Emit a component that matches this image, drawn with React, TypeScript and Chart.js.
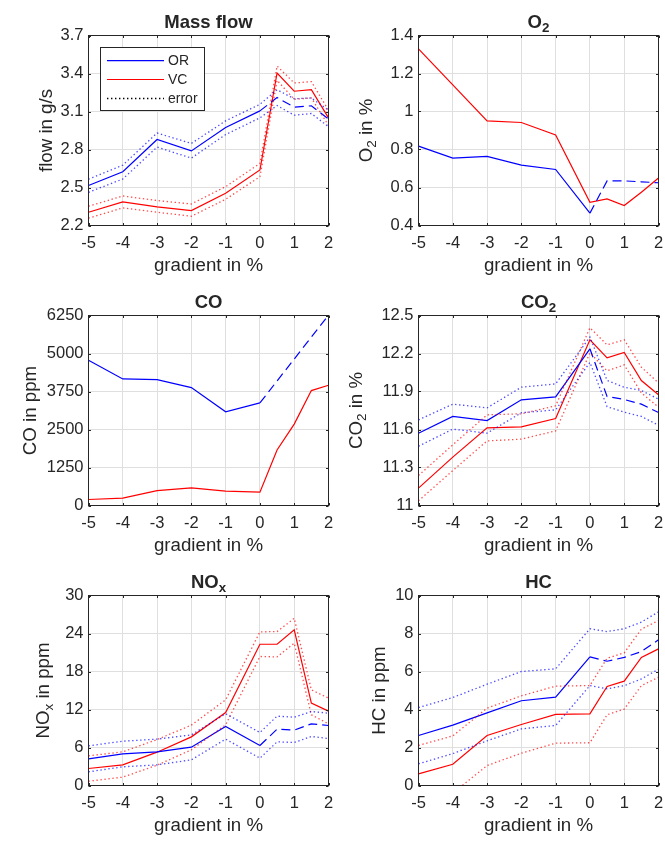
import React, { useEffect, useRef } from "react";
import { Chart, registerables } from "chart.js";
Chart.register(...registerables);

const FONT = '"Liberation Sans", Arial, Helvetica, sans-serif';
const AXC = "#262626";
const BLUE = "#0000ff";
const RED = "#ff0000";
const BLUE_ERR = "rgba(0,0,255,0.7)";
const RED_ERR = "rgba(255,0,0,0.7)";

const X = [-5, -4, -3, -2, -1, 0, 0.5, 1, 1.5, 2];
const X_TICKS = [-5, 2, 1];

// Mass flow (g/s)
const mfOR = [2.516, 2.624, 2.879, 2.789, 2.974, 3.105, 3.21, 3.134, 3.145, 3.04];
const mfORhi = [2.565, 2.677, 2.93, 2.848, 3.026, 3.157, 3.272, 3.2, 3.207, 3.11];
const mfORlo = [2.462, 2.567, 2.819, 2.732, 2.918, 3.05, 3.147, 3.071, 3.084, 2.98];
const mfVC = [2.305, 2.386, 2.347, 2.318, 2.454, 2.638, 3.404, 3.26, 3.273, 3.05];
const mfVChi = [2.352, 2.433, 2.397, 2.37, 2.507, 2.69, 3.459, 3.325, 3.336, 3.11];
const mfVClo = [2.258, 2.339, 2.305, 2.273, 2.407, 2.585, 3.346, 3.197, 3.207, 2.99];

// O2 (%)
const o2OR = [0.818, 0.755, 0.764, 0.718, 0.695, 0.465, 0.635, 0.635, 0.63, 0.625];
const o2VC = [1.33, 1.14, 0.951, 0.942, 0.877, 0.522, 0.54, 0.505, 0.575, 0.65];

// CO (ppm)
const coOR = [4775, 4163, 4141, 3879, 3081, 3376, 4097, 4818, 5540, 6260];
const coVC = [197, 240, 492, 579, 470, 437, 1825, 2677, 3780, 3955];

// CO2 (%)
const co2OR = [11.571, 11.703, 11.671, 11.834, 11.858, 12.237, 11.86, 11.837, 11.8, 11.734];
const co2ORhi = [11.676, 11.8, 11.771, 11.934, 11.96, 12.33, 11.987, 11.934, 11.908, 11.84];
const co2ORlo = [11.468, 11.603, 11.571, 11.732, 11.755, 12.13, 11.78, 11.737, 11.703, 11.634];
const co2VC = [11.137, 11.382, 11.613, 11.621, 11.687, 12.308, 12.166, 12.208, 11.987, 11.874];
const co2VChi = [11.237, 11.479, 11.716, 11.724, 11.787, 12.403, 12.268, 12.308, 12.092, 11.968];
const co2VClo = [11.037, 11.276, 11.51, 11.524, 11.589, 12.205, 12.063, 12.11, 11.889, 11.776];

// NOx (ppm)
const noxOR = [4.21, 5.0, 5.32, 6.05, 9.32, 6.32, 8.9, 8.74, 9.74, 9.47];
const noxORhi = [6.26, 7.0, 7.32, 8.0, 11.32, 8.37, 10.95, 10.79, 11.68, 11.42];
const noxORlo = [2.16, 2.95, 3.26, 4.05, 7.32, 4.32, 6.89, 6.79, 7.74, 7.42];
const noxVC = [2.68, 3.26, 5.26, 7.68, 11.53, 22.3, 22.3, 24.58, 13.0, 11.74];
const noxVChi = [4.68, 5.32, 7.26, 9.53, 13.53, 24.26, 24.3, 26.4, 15.1, 13.8];
const noxVClo = [0.68, 1.32, 3.21, 5.63, 9.58, 20.37, 20.3, 22.47, 11.16, 9.74];

// HC (ppm)
const hcOR = [2.63, 3.18, 3.82, 4.46, 4.65, 6.77, 6.54, 6.74, 7.05, 7.67];
const hcORhi = [4.1, 4.63, 5.33, 6.0, 6.14, 8.25, 8.1, 8.25, 8.6, 9.14];
const hcORlo = [1.14, 1.68, 2.35, 2.98, 3.16, 5.26, 5.09, 5.25, 5.61, 6.12];
const hcVC = [0.61, 1.12, 2.63, 3.21, 3.74, 3.77, 5.21, 5.49, 6.74, 7.19];
const hcVChi = [2.11, 2.61, 4.07, 4.72, 5.23, 5.26, 6.7, 6.98, 8.23, 8.68];
const hcVClo = [-0.9, -0.4, 1.05, 1.7, 2.23, 2.25, 3.72, 4.02, 5.25, 5.7];

const LEGEND_LABELS = ["OR", "VC", "error"];
const LEGEND_COLORS = [BLUE, RED, "#000000"];
const X_LABEL = "gradient in %";

type Part = { t: string; sub?: boolean };
type Series = { data: number[]; color: string; err?: boolean; dashAfterZero?: boolean };
type PanelDef = {
  title: Part[];
  ylabel: Part[];
  ylabelX: number; // absolute x of rotated label baseline
  y: [number, number, number];
  series: Series[];
  legend?: boolean;
};

const PANELS: PanelDef[] = [
  {
    title: [{ t: "Mass flow" }],
    ylabel: [{ t: "flow in g/s" }],
    ylabelX: 52,
    y: [2.2, 3.7, 0.3],
    legend: true,
    series: [
      { data: mfORhi, color: BLUE_ERR, err: true },
      { data: mfORlo, color: BLUE_ERR, err: true },
      { data: mfVChi, color: RED_ERR, err: true },
      { data: mfVClo, color: RED_ERR, err: true },
      { data: mfOR, color: BLUE, dashAfterZero: true },
      { data: mfVC, color: RED },
    ],
  },
  {
    title: [{ t: "O" }, { t: "2", sub: true }],
    ylabel: [{ t: "O" }, { t: "2", sub: true }, { t: " in %" }],
    ylabelX: 372,
    y: [0.4, 1.4, 0.2],
    series: [
      { data: o2OR, color: BLUE, dashAfterZero: true },
      { data: o2VC, color: RED },
    ],
  },
  {
    title: [{ t: "CO" }],
    ylabel: [{ t: "CO in ppm" }],
    ylabelX: 35.5,
    y: [0, 6250, 1250],
    series: [
      { data: coOR, color: BLUE, dashAfterZero: true },
      { data: coVC, color: RED },
    ],
  },
  {
    title: [{ t: "CO" }, { t: "2", sub: true }],
    ylabel: [{ t: "CO" }, { t: "2", sub: true }, { t: " in %" }],
    ylabelX: 362,
    y: [11, 12.5, 0.3],
    series: [
      { data: co2ORhi, color: BLUE_ERR, err: true },
      { data: co2ORlo, color: BLUE_ERR, err: true },
      { data: co2VChi, color: RED_ERR, err: true },
      { data: co2VClo, color: RED_ERR, err: true },
      { data: co2OR, color: BLUE, dashAfterZero: true },
      { data: co2VC, color: RED },
    ],
  },
  {
    title: [{ t: "NO" }, { t: "x", sub: true }],
    ylabel: [{ t: "NO" }, { t: "x", sub: true }, { t: " in ppm" }],
    ylabelX: 48.5,
    y: [0, 30, 6],
    series: [
      { data: noxORhi, color: BLUE_ERR, err: true },
      { data: noxORlo, color: BLUE_ERR, err: true },
      { data: noxVChi, color: RED_ERR, err: true },
      { data: noxVClo, color: RED_ERR, err: true },
      { data: noxOR, color: BLUE, dashAfterZero: true },
      { data: noxVC, color: RED },
    ],
  },
  {
    title: [{ t: "HC" }],
    ylabel: [{ t: "HC in ppm" }],
    ylabelX: 385,
    y: [0, 10, 2],
    series: [
      { data: hcORhi, color: BLUE_ERR, err: true },
      { data: hcORlo, color: BLUE_ERR, err: true },
      { data: hcVChi, color: RED_ERR, err: true },
      { data: hcVClo, color: RED_ERR, err: true },
      { data: hcOR, color: BLUE, dashAfterZero: true },
      { data: hcVC, color: RED },
    ],
  },
];

const TICK_FS = 16.5;
const LABEL_FS = 18.7;
const TITLE_FS = 18.5;
const SUB_SCALE = 0.72;

function richWidth(ctx: CanvasRenderingContext2D, parts: Part[], fs: number, bold: boolean) {
  let w = 0;
  for (const p of parts) {
    const s = p.sub ? fs * SUB_SCALE : fs;
    ctx.font = `${bold ? "bold " : ""}${s}px ${FONT}`;
    w += ctx.measureText(p.t).width;
  }
  return w;
}

function drawRich(ctx: CanvasRenderingContext2D, parts: Part[], cx: number, y: number, fs: number, bold: boolean) {
  const w = richWidth(ctx, parts, fs, bold);
  let x = cx - w / 2;
  ctx.textAlign = "left";
  ctx.textBaseline = "alphabetic";
  for (const p of parts) {
    const s = p.sub ? fs * SUB_SCALE : fs;
    ctx.font = `${bold ? "bold " : ""}${s}px ${FONT}`;
    ctx.fillText(p.t, x, y + (p.sub ? fs * 0.22 : 0));
    x += ctx.measureText(p.t).width;
  }
}

function PanelChart({ p, idx }: { p: PanelDef; idx: number }) {
  const ref = useRef<HTMLCanvasElement>(null);
  const col = idx % 2;
  const row = Math.floor(idx / 2);
  const cLeft = col === 0 ? 0 : 332;
  const cTop = row * 280;
  const cW = col === 0 ? 340 : 333;
  const cH = 280;

  useEffect(() => {
    if (!ref.current) return;
    const plotL = (col === 0 ? 88.5 : 418.5) - cLeft;
    const plotR = (col === 0 ? 328.5 : 658.5) - cLeft;
    const plotT = [35.5, 315.5, 595.5][row] - cTop;
    const plotB = plotT + 190;
    const Y_W = 80;
    const X_H = 30;
    const yLabX = p.ylabelX - cLeft;

    const datasets = p.series.map((s) => ({
      data: X.map((x, i) => ({ x, y: s.data[i] })),
      borderColor: s.color,
      backgroundColor: s.color,
      borderWidth: s.err ? 1.3 : 1.2,
      borderDash: s.err ? [1.4, 2.6] : [],
      pointRadius: 0,
      tension: 0,
      fill: false,
      segment: s.dashAfterZero
        ? { borderDash: (c: any) => (c.p0.parsed.x >= 0 ? [9, 5] : undefined) }
        : undefined,
    }));

    const overlay = {
      id: "matlabDecor",
      afterDraw(chart: any) {
        const ctx: CanvasRenderingContext2D = chart.ctx;
        const a = chart.chartArea;
        const xs = chart.scales.x;
        const ys = chart.scales.y;
        ctx.save();
        ctx.setLineDash([]);
        // inner tick marks
        ctx.strokeStyle = AXC;
        ctx.lineWidth = 1;
        const tl = 2.5;
        ctx.beginPath();
        for (const t of xs.ticks) {
          const px = Math.round(xs.getPixelForValue(t.value)) + 0.5;
          ctx.moveTo(px, a.bottom);
          ctx.lineTo(px, a.bottom - tl);
          ctx.moveTo(px, a.top);
          ctx.lineTo(px, a.top + tl);
        }
        for (const t of ys.ticks) {
          const py = Math.round(ys.getPixelForValue(t.value)) + 0.5;
          ctx.moveTo(a.left, py);
          ctx.lineTo(a.left + tl, py);
          ctx.moveTo(a.right, py);
          ctx.lineTo(a.right - tl, py);
        }
        ctx.stroke();
        // box
        ctx.strokeStyle = AXC;
        ctx.lineWidth = 1;
        ctx.strokeRect(a.left, a.top, a.right - a.left, a.bottom - a.top);
        // texts
        ctx.fillStyle = AXC;
        const cx = (a.left + a.right) / 2;
        drawRich(ctx, p.title, cx, a.top - 7.5, TITLE_FS, true);
        drawRich(ctx, [{ t: X_LABEL }], cx, a.bottom + 45, LABEL_FS, false);
        ctx.save();
        ctx.translate(yLabX, (a.top + a.bottom) / 2);
        ctx.rotate(-Math.PI / 2);
        drawRich(ctx, p.ylabel, 0, 0, LABEL_FS, false);
        ctx.restore();
        // legend
        if (p.legend) {
          const lx0 = 100.5, ly0 = 47.5, lx1 = 204.5, ly1 = 110.5;
          ctx.fillStyle = "#ffffff";
          ctx.fillRect(lx0, ly0, lx1 - lx0, ly1 - ly0);
          ctx.strokeStyle = AXC;
          ctx.lineWidth = 1;
          ctx.strokeRect(lx0, ly0, lx1 - lx0, ly1 - ly0);
          const rows = [60.7, 79.5, 98.5];
          for (let i = 0; i < 3; i++) {
            const ry = rows[i];
            ctx.setLineDash(i === 2 ? [1.4, 2.6] : []);
            ctx.strokeStyle = LEGEND_COLORS[i];
            ctx.lineWidth = i === 2 ? 1.3 : 1.2;
            ctx.beginPath();
            ctx.moveTo(107, ry);
            ctx.lineTo(164, ry);
            ctx.stroke();
            ctx.setLineDash([]);
            ctx.fillStyle = AXC;
            ctx.font = `14px ${FONT}`;
            ctx.textAlign = "left";
            ctx.textBaseline = "middle";
            ctx.fillText(LEGEND_LABELS[i], 168, ry + 0.5);
          }
        }
        ctx.restore();
      },
    };

    const fmt = (v: any) => String(Math.round(Number(v) * 1000) / 1000);

    const chart = new Chart(ref.current, {
      type: "line",
      data: { datasets: datasets as any },
      options: {
        responsive: false,
        animation: false,
        events: [],
        layout: {
          padding: {
            left: plotL - Y_W,
            right: cW - plotR,
            top: plotT,
            bottom: cH - plotB - X_H,
          },
        },
        plugins: { legend: { display: false }, tooltip: { enabled: false }, title: { display: false } },
        scales: {
          x: {
            type: "linear",
            min: X_TICKS[0],
            max: X_TICKS[1],
            afterFit: (s: any) => {
              s.height = X_H;
              s.paddingLeft = 0;
              s.paddingRight = 0;
            },
            ticks: {
              stepSize: X_TICKS[2],
              color: AXC,
              padding: 8,
              maxRotation: 0,
              autoSkip: false,
              font: { family: FONT, size: TICK_FS },
              callback: fmt,
            },
            grid: { color: "#dfdfdf", lineWidth: 1, drawTicks: false },
            border: { display: false },
          },
          y: {
            type: "linear",
            min: p.y[0],
            max: p.y[1],
            afterFit: (s: any) => {
              s.width = Y_W;
              s.paddingTop = 0;
              s.paddingBottom = 0;
            },
            ticks: {
              stepSize: p.y[2],
              color: AXC,
              padding: 5,
              autoSkip: false,
              font: { family: FONT, size: TICK_FS },
              callback: fmt,
            },
            grid: { color: "#dfdfdf", lineWidth: 1, drawTicks: false },
            border: { display: false },
          },
        },
      },
      plugins: [overlay],
    } as any);
    return () => chart.destroy();
  }, []);

  return (
    <canvas
      ref={ref}
      width={cW}
      height={cH}
      style={{ position: "absolute", left: cLeft, top: cTop, width: cW, height: cH }}
    />
  );
}

export default function App() {
  return (
    <div style={{ position: "absolute", left: 0, top: 0, width: 665, height: 842, background: "#ffffff", overflow: "hidden" }}>
      {PANELS.map((p, i) => (
        <PanelChart key={i} p={p} idx={i} />
      ))}
    </div>
  );
}
